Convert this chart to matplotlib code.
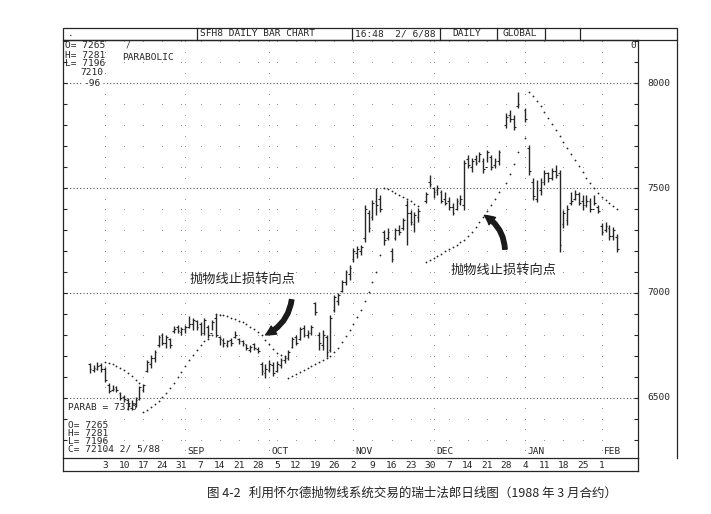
import matplotlib
matplotlib.use('Agg')
import numpy as np
import pandas as pd
import matplotlib.pyplot as plt
from matplotlib.patches import FancyArrowPatch, Rectangle
from matplotlib.lines import Line2D

nan = np.nan

# trading days, Jul 28 1987 .. Feb 5 1988 (SF March 88 contract)
dates = pd.bdate_range('1987-07-28', '1988-02-05')

high = [6667, 6657, 6671, 6667, 6648, 6571, 6562, 6557, 6529, 6514,
        6500, 6490, 6505, 6557, 6567, 6681, 6705, 6729, 6800, 6810,
        6800, 6786, 6843, 6848, 6838, 6848, 6890, 6881, 6871, 6862,
        6881, 6848, 6871, 6900, 6795, 6786, 6776, 6786, 6819, 6786,
        6776, 6757, 6752, 6762, 6743, 6671, 6662, 6681, 6671, 6676,
        6690, 6700, 6729, 6790, 6800, 6838, 6848, 6824, 6848, 6957,
        6814, 6824, 6800, 6895, 6990, 7000, 7062, 7110, 7133, 7214,
        7224, 7229, 7419, 7395, 7443, 7500, 7467, 7300, 7310, 7214,
        7310, 7324, 7357, 7443, 7395, 7386, 7405, nan, 7481, 7562,
        7505, 7514, 7490, 7481, 7457, 7429, 7452, 7467, 7633, 7657,
        7643, 7657, 7671, 7643, 7681, 7657, 7643, 7681, nan, 7857,
        7871, 7848, 7957, nan, 7881, 7705, 7548, 7538, 7548, 7586,
        7576, 7595, 7610, 7586, 7395, 7419, 7481, 7490, 7481, 7467,
        7467, 7452, 7467, 7419, 7333, 7338, 7324, 7314, 7281]

low = [6619, 6624, 6633, 6624, 6576, 6524, 6533, 6529, 6490, 6481,
       6443, 6443, 6457, 6490, 6529, 6624, 6643, 6671, 6743, 6752,
       6738, 6738, 6810, 6810, 6800, 6810, 6833, 6824, 6824, 6800,
       6800, 6786, 6824, 6790, 6752, 6743, 6743, 6748, 6786, 6757,
       6748, 6729, 6719, 6729, 6714, 6610, 6595, 6624, 6605, 6624,
       6643, 6667, 6681, 6738, 6752, 6776, 6790, 6786, 6800, 6895,
       6729, 6729, 6695, 6719, 6910, 6943, 7005, 7038, 7062, 7148,
       7167, 7181, 7243, 7290, 7348, 7371, 7386, 7229, 7252, 7148,
       7252, 7276, 7300, 7229, 7324, 7290, 7338, nan, 7429, 7505,
       7452, 7467, 7429, 7419, 7395, 7371, 7395, 7419, 7395, 7595,
       7576, 7610, 7624, 7571, 7624, 7586, 7595, 7610, nan, 7786,
       7814, 7776, 7881, nan, 7814, 7562, 7443, 7433, 7467, 7514,
       7529, 7538, 7548, 7195, 7310, 7324, 7419, 7443, 7419, 7395,
       7410, 7386, 7419, 7381, 7276, 7290, 7252, 7252, 7196]

open_ = [6660, 6635, 6640, 6655, 6640, 6560, 6540, 6550, 6525, 6505,
         6490, 6450, 6470, 6495, 6540, 6630, 6660, 6690, 6750, 6800,
         6760, 6780, 6820, 6840, 6815, 6830, 6840, 6850, 6865, 6850,
         6810, 6840, 6810, 6880, 6790, 6775, 6750, 6775, 6790, 6780,
         6770, 6755, 6730, 6755, 6735, 6660, 6620, 6635, 6655, 6630,
         6655, 6680, 6690, 6745, 6790, 6780, 6835, 6800, 6810, 6950,
         6800, 6750, 6790, 6730, 6920, 6960, 7010, 7050, 7090, 7160,
         7190, 7200, 7260, 7380, 7360, 7440, 7450, 7290, 7260, 7200,
         7260, 7300, 7310, 7420, 7380, 7330, 7360, nan, 7440, 7530,
         7500, 7490, 7480, 7450, 7440, 7410, 7400, 7430, 7420, 7640,
         7600, 7640, 7630, 7630, 7600, 7650, 7610, 7630, nan, 7800,
         7850, 7830, 7890, nan, 7870, 7690, 7530, 7450, 7490, 7530,
         7570, 7550, 7580, 7570, 7330, 7350, 7430, 7450, 7470, 7440,
         7420, 7440, 7400, 7410, 7320, 7300, 7310, 7270, 7265]

close = [6640, 6645, 6650, 6640, 6585, 6535, 6545, 6540, 6500, 6495,
         6460, 6470, 6490, 6550, 6560, 6670, 6690, 6720, 6790, 6760,
         6790, 6750, 6830, 6820, 6830, 6840, 6850, 6870, 6840, 6810,
         6870, 6800, 6860, 6800, 6780, 6760, 6770, 6760, 6800, 6770,
         6760, 6740, 6745, 6740, 6725, 6630, 6640, 6660, 6620, 6660,
         6680, 6690, 6720, 6780, 6760, 6830, 6800, 6810, 6840, 6910,
         6760, 6800, 6720, 6880, 6980, 6990, 7050, 7100, 7120, 7200,
         7210, 7220, 7400, 7310, 7430, 7420, 7400, 7250, 7290, 7160,
         7300, 7290, 7350, 7380, 7340, 7370, 7390, nan, 7470, 7520,
         7480, 7500, 7440, 7430, 7410, 7380, 7440, 7450, 7620, 7610,
         7630, 7620, 7660, 7590, 7670, 7600, 7630, 7670, nan, 7840,
         7830, 7790, 7900, nan, 7830, 7580, 7460, 7500, 7530, 7570,
         7550, 7580, 7560, 7230, 7380, 7400, 7440, 7470, 7430, 7420,
         7440, 7400, 7430, 7390, 7290, 7320, 7270, 7300, 7210]

# parabolic stop-and-reverse dots
sar = [nan, nan, nan, nan, 6671, 6667, 6662, 6652, 6643, 6633,
       6619, 6605, 6586, 6570, 6433, 6443, 6457, 6471, 6486, 6505,
       6524, 6548, 6571, 6598, 6624, 6652, 6680, 6705, 6728, 6750,
       6770, 6783, 6800, 6900, 6897, 6893, 6888, 6882, 6876, 6868,
       6860, 6850, 6840, 6828, 6815, 6800, 6778, 6755, 6732, 6714,
       6706, 6702, 6595, 6603, 6612, 6622, 6632, 6642, 6652, 6662,
       6671, 6680, 6688, 6700, 6720, 6740, 6765, 6793, 6822, 6852,
       6886, 6920, 6960, 7005, 7052, 7100, 7180, 7500, 7495, 7487,
       7478, 7468, 7457, 7448, 7436, 7425, 7414, nan, 7148, 7157,
       7167, 7176, 7188, 7199, 7210, 7220, 7230, 7242, 7254, 7270,
       7290, 7313, 7338, 7362, 7390, 7419, 7448, 7481, nan, 7524,
       7567, 7614, 7671, nan, 7738, 7957, 7938, 7914, 7890, 7862,
       7833, 7805, 7776, 7748, 7719, 7690, 7662, 7633, 7605, 7576,
       7548, 7524, 7500, 7476, 7457, 7443, 7429, 7414, 7400]

month_names = ['SEP', 'OCT', 'NOV', 'DEC', 'JAN', 'FEB']
price_labels = [6500, 7000, 7500, 8000]
note = '抛物线止损转向点'
caption = '图 4-2   利用怀尔德抛物线系统交易的瑞士法郎日线图（1988 年 3 月合约）'

high = np.array(high, float); low = np.array(low, float)
open_ = np.array(open_, float); close = np.array(close, float)
sar = np.array(sar, float)
idx = np.arange(len(dates))
ok = ~np.isnan(high)

W, H = 711, 514
ink = '#262626'
mono = 'DejaVu Sans Mono'
fs = 6.8


def fx(px):
    return px / W


def fy(py):
    return 1 - py / H


fig = plt.figure(figsize=(W / 100, H / 100), dpi=100)
fig.patch.set_facecolor('white')
ax = fig.add_axes([fx(63), fy(458), (638 - 63) / W, (458 - 40) / H])
ax.set_xlim(-7.0, 143.5)
ax.set_ylim(6214, 8205)

# dot grid: weekly columns, denser on month starts
mondays = idx[dates.weekday == 0]
month_start = [i for i in idx[1:] if dates[i].month != dates[i - 1].month]
month_start = [i if ok[i] else i + 1 for i in month_start]
lv100 = [v for v in range(6300, 8201, 100) if v % 500]
lv50 = [v for v in range(6250, 8201, 50) if v % 500]
gx, gy = [], []
for m in mondays:
    for v in lv100:
        gx.append(m); gy.append(v)
for m in [idx[4]] + month_start:
    for v in lv50:
        gx.append(m); gy.append(v)
ax.scatter(gx, gy, s=0.6, color='#8a8a8a', lw=0, zorder=1)
for v in price_labels:
    ax.axhline(v, color='#555555', lw=0.8, ls=(0, (1, 2)), zorder=1)

# bars
ax.vlines(idx[ok], low[ok], high[ok], color=ink, lw=1.0, zorder=3)
ax.hlines(open_[ok], idx[ok] - 0.45, idx[ok], color=ink, lw=0.8, zorder=3)
ax.hlines(close[ok], idx[ok], idx[ok] + 0.45, color=ink, lw=0.8, zorder=3)

# parabolic dots
ax.plot(idx, sar, ls='none', marker='o', ms=1.3, mew=0, color=ink, zorder=3)

ax.set_xticks([])
ax.set_yticks(range(6300, 8201, 100))
ax.tick_params(axis='y', direction='in', length=3, width=0.8, color=ink,
               left=True, right=True, labelleft=False, labelright=False)
for s in ax.spines.values():
    s.set_color(ink)
    s.set_linewidth(0.9)

# right price scale
for v in price_labels:
    ax.text(1.017, v, str(v), transform=ax.get_yaxis_transform(),
            ha='left', va='center', family=mono, fontsize=fs, color=ink)
fig.text(fx(630), fy(46), '0', family=mono, fontsize=fs, color=ink,
         ha='left', va='center')

# month names and week dates
for name, m in zip(month_names, month_start[1:]):
    ax.text(m + 0.6, 6225, name, ha='left', va='bottom', family=mono,
            fontsize=fs, color=ink)
for m in mondays:
    ax.text(m, -0.017, str(dates[m].day), transform=ax.get_xaxis_transform(),
            ha='center', va='center', family=mono, fontsize=fs, color=ink)

# frames: header row, right outer edge, date row
fig.add_artist(Rectangle((fx(63), fy(40)), (677 - 63) / W, 12 / H,
                         transform=fig.transFigure, fill=False, lw=0.9, ec=ink))
for xd in [197, 352, 440, 497, 545, 580]:
    fig.add_artist(Line2D([fx(xd), fx(xd)], [fy(28), fy(40)], lw=0.9, color=ink))
fig.add_artist(Line2D([fx(677), fx(677)], [fy(40), fy(458)], lw=0.9, color=ink))
fig.add_artist(Line2D([fx(63), fx(638)], [fy(471), fy(471)], lw=0.9, color=ink))
fig.add_artist(Line2D([fx(63), fx(63)], [fy(458), fy(471)], lw=0.9, color=ink))
fig.add_artist(Line2D([fx(638), fx(638)], [fy(458), fy(471)], lw=0.9, color=ink))

head = [(68, '.'), (200, 'SFH8 DAILY BAR CHART'), (355, '16:48  2/ 6/88'),
        (452, 'DAILY'), (503, 'GLOBAL')]
for xp, t in head:
    fig.text(fx(xp), fy(34), t, family=mono, fontsize=fs, color=ink,
             ha='left', va='center')

# quote block, top left
top_lines = [('O= 7265', 46), ('H= 7281', 55), ('L= 7196', 64)]
for t, yp in top_lines:
    fig.text(fx(65), fy(yp), t, family=mono, fontsize=fs, color=ink,
             ha='left', va='center')
fig.text(fx(103), fy(73), '7210', family=mono, fontsize=fs, color=ink,
         ha='right', va='center')
fig.text(fx(101), fy(83), '-96', family=mono, fontsize=fs, color=ink,
         ha='right', va='center',
         bbox=dict(fc='white', ec='none', pad=0.6))
fig.text(fx(122), fy(57), 'PARABOLIC', family=mono, fontsize=fs, color=ink,
         ha='left', va='center')
fig.text(fx(126), fy(45), '/', family=mono, fontsize=fs - 1, color=ink,
         ha='left', va='center')

# quote block, bottom left
fig.text(fx(68), fy(408), 'PARAB = 7375', family=mono, fontsize=fs, color=ink,
         ha='left', va='center')
bot_lines = [('O= 7265', 425), ('H= 7281', 433), ('L= 7196', 441),
             ('C= 72104 2/ 5/88', 449)]
for t, yp in bot_lines:
    fig.text(fx(68), fy(yp), t, family=mono, fontsize=fs, color=ink,
             ha='left', va='center')

# Chinese notes with curved arrows
cjk = ['Noto Sans CJK SC', 'DejaVu Sans']
fig.text(fx(243), fy(279), note, family=cjk, fontsize=9.5, color='#222222',
         ha='center', va='center')
fig.text(fx(504), fy(270), note, family=cjk, fontsize=9.5, color='#222222',
         ha='center', va='center')
arrow_kw = dict(arrowstyle='simple,head_width=7,head_length=7,tail_width=3.2',
                color='#1a1a1a', transform=fig.transFigure, zorder=5)
fig.add_artist(FancyArrowPatch((fx(292), fy(297)), (fx(263), fy(336)),
                               connectionstyle='arc3,rad=-0.3', **arrow_kw))
fig.add_artist(FancyArrowPatch((fx(505), fy(252)), (fx(482), fy(214)),
                               connectionstyle='arc3,rad=0.3', **arrow_kw))

fig.text(fx(412), fy(493), caption, family=cjk, fontsize=9, color='#222222',
         ha='center', va='center')

fig.savefig('out.png', dpi=100, facecolor='white')
plt.close(fig)
